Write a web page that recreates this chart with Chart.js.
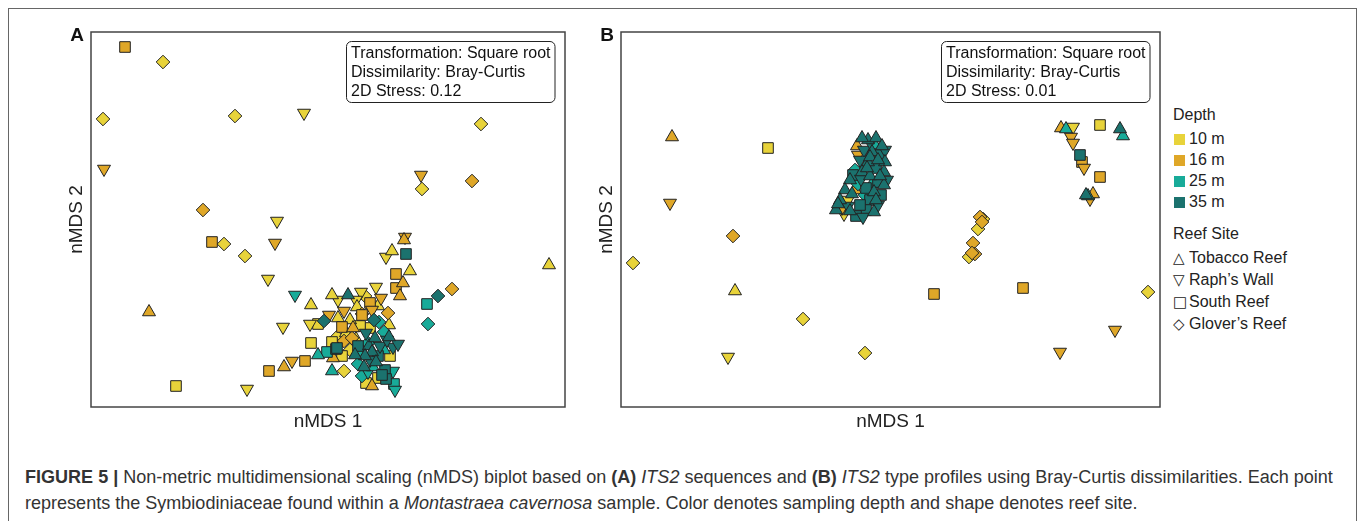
<!DOCTYPE html>
<html>
<head>
<meta charset="utf-8">
<script src="https://cdn.jsdelivr.net/npm/chart.js@4.4.0/dist/chart.umd.min.js"></script>
<style>
  body { margin: 0; background: #fff; width: 1358px; height: 521px; overflow: hidden; position: relative;
         font-family: "Liberation Sans", Arial, sans-serif; color: #222; }
  #frame { position: absolute; left: 8px; top: 8px; width: 1349px; height: 600px;
           border: 1.5px solid #666; border-bottom: none; box-sizing: border-box; }
  canvas { position: absolute; }
  #chartA { left: 40px; top: 20px; }
  #chartB { left: 570px; top: 20px; }
  #legend { position: absolute; left: 1173px; top: 104px; font-size: 16px; }
  .lg-title { line-height: 22px; margin-bottom: 2px; }
  .lg-title.second { margin-top: 11px; }
  .lg-row { line-height: 21px; white-space: nowrap; }
  .sw { display: inline-block; width: 11px; height: 11px; margin: 0 4px 0 1px; vertical-align: -1px; }
  .sym { display: inline-block; width: 16px; font-family: "DejaVu Sans", sans-serif; font-size: 15px; }
  #caption { position: absolute; left: 25px; top: 464px; font-size: 16px; line-height: 26px;
             color: #333; white-space: nowrap; }
</style>
</head>
<body>
<div id="frame"></div>
<canvas id="chartA" width="535" height="420"></canvas>
<canvas id="chartB" width="600" height="420"></canvas>
<div id="legend"></div>
<div id="caption">
  <span id="line1"><b>FIGURE 5 |</b> Non-metric multidimensional scaling (nMDS) biplot based on <b>(A)</b> <i>ITS2</i> sequences and <b>(B)</b> <i>ITS2</i> type profiles using Bray-Curtis dissimilarities. Each point</span><br>
  represents the Symbiodiniaceae found within a <i>Montastraea cavernosa</i> sample. Color denotes sampling depth and shape denotes reef site.
</div>
<script>
// legend levels
const depthLabels = ["10 m", "16 m", "25 m", "35 m"];
const siteLabels = ["Tobacco Reef", "Raph\u2019s Wall", "South Reef", "Glover\u2019s Reef"];
const depthColors = ["#E8D33A", "#DFA728", "#18AB99", "#1B726E"];

const statsA = ["Transformation: Square root", "Dissimilarity: Bray-Curtis", "2D Stress: 0.12"];
const statsB = ["Transformation: Square root", "Dissimilarity: Bray-Curtis", "2D Stress: 0.01"];

// panel A: ITS2 sequences (depth / site are indices into the label lists)
const aX = [-1.015,-0.825,-1.125,-0.465,-0.12,0.765,-1.12,0.465,0.47,0.72,
  -0.625,-0.255,-0.58,-0.52,-0.265,-0.415,-0.30,1.105,-0.895,-0.76,
  -0.405,-0.295,-0.22,-0.18,-0.115,-0.05,-0.005,0.04,0.02,0.08,
  0.19,-0.085,-0.225,-0.165,0.02,0.10,-0.085,0.165,0.185,0.24,
  0.265,0.36,0.34,0.375,0.34,0.41,0.29,0.32,0.385,0.38,
  0.39,0.495,0.55,0.62,0.50,-0.09,-0.05,-0.02,0.005,0.08,
  0.11,0.17,0.30,0.305,0.255,0.25,0.21,0.15,0.31,0.285,
  0.29,0.33,0.335,0.325,0.325,0.07,0.125,0.21,0.045,0.08,
  0.02,0.045,0.025,0.15,0.18,0.225,0.205,0.17,0.145,0.05,
  0.09,0.12,0.19,0.235,0.26,0.22,0.25,0.185,0.16,0.28,
  0.21,0.24,0.20,0.27,0.17,0.135,0.295,0.23,0.28,0.20,
  0.305,0.16,0.11,0.07,0.25,0.22,0.35,0.14,0.05,0.14,
  0.22];
const aY = [0.865,0.79,0.505,0.52,0.535,0.48,0.255,0.225,0.155,0.195,
  0.05,-0.005,-0.11,-0.12,-0.115,-0.18,-0.295,-0.225,-0.46,-0.83,
  -0.845,-0.755,-0.735,-0.705,-0.705,-0.675,-0.66,-0.645,-0.755,-0.755,
  -0.815,-0.615,-0.535,-0.375,-0.375,-0.375,-0.425,-0.36,-0.38,-0.335,
  -0.39,-0.38,-0.34,-0.315,-0.27,-0.255,-0.185,-0.155,-0.085,-0.10,
  -0.17,-0.42,-0.38,-0.345,-0.52,-0.52,-0.52,-0.505,-0.475,-0.455,
  -0.50,-0.47,-0.465,-0.525,-0.51,-0.43,-0.415,-0.63,-0.68,-0.75,
  -0.795,-0.82,-0.85,-0.635,-0.755,-0.535,-0.54,-0.54,-0.585,-0.605,
  -0.61,-0.64,-0.69,-0.72,-0.735,-0.735,-0.63,-0.475,-0.435,-0.49,
  -0.565,-0.59,-0.565,-0.59,-0.63,-0.66,-0.68,-0.68,-0.65,-0.65,
  -0.70,-0.71,-0.76,-0.775,-0.78,-0.675,-0.60,-0.50,-0.56,-0.615,
  -0.585,-0.53,-0.65,-0.68,-0.79,-0.83,-0.62,-0.595,-0.40,-0.40,
  -0.45];
const aDepth = [1,0,0,0,0,0,1,1,0,1,
  1,0,1,0,1,0,0,0,1,0,
  0,1,1,1,1,2,2,3,2,0,
  0,0,0,2,0,3,0,0,0,0,
  1,1,1,1,1,0,0,0,1,1,
  3,2,3,1,2,0,0,3,1,1,
  0,1,1,0,2,0,1,3,0,3,
  3,2,2,3,2,1,1,0,0,1,
  0,3,1,2,3,2,3,1,0,0,
  0,1,3,3,3,3,3,3,2,2,
  3,3,2,3,2,3,3,3,2,2,
  3,0,0,0,0,1,3,0,0,0,
  1];
const aSite = [2,3,3,3,1,3,1,1,3,3,
  3,1,2,3,1,3,1,0,0,2,
  1,2,0,1,2,0,2,2,0,3,
  2,2,1,1,0,0,0,1,3,1,
  1,0,2,0,2,0,1,0,1,0,
  2,2,3,3,3,1,2,3,1,1,
  0,3,3,0,3,0,2,2,2,2,
  2,2,1,1,1,2,0,2,3,3,
  2,2,0,3,0,0,0,2,0,0,
  0,3,1,0,1,0,2,0,3,0,
  1,0,1,2,3,0,1,3,3,3,
  0,2,3,2,2,0,1,0,1,1,
  1];

// panel B: ITS2 type profiles
const bX = [-1.09,-0.61,-1.10,-0.785,-1.285,-0.775,-0.435,-0.81,-0.125,0.22,
  0.665,1.29,1.125,0.85,0.855,0.88,0.915,1.05,1.15,1.165,
  0.905,0.915,0.95,0.96,0.97,1.05,0.99,1.015,1.00,0.98,
  0.45,0.465,0.44,0.415,0.425,0.395,0.41,0.46,
  -0.11,-0.07,-0.04,-0.13,-0.09,-0.05,-0.025,-0.15,-0.11,-0.07,
  -0.03,-0.175,-0.14,-0.10,-0.06,-0.03,-0.20,-0.16,-0.12,-0.08,
  -0.045,-0.225,-0.19,-0.10,-0.06,-0.25,-0.21,-0.12,-0.08,-0.27,
  -0.23,-0.17,-0.135,-0.20,-0.15,-0.165,-0.075,-0.125,-0.185,-0.05,
  -0.015,-0.14,-0.10,-0.16,-0.24,-0.21,-0.06,-0.09,-0.025,-0.26,
  -0.115,-0.145,-0.175,-0.07,-0.10];
const bY = [0.415,0.36,0.085,-0.08,-0.215,-0.355,-0.495,-0.685,-0.665,-0.37,
  -0.34,-0.36,-0.55,-0.66,0.46,0.455,0.465,0.475,0.455,0.42,
  0.415,0.385,0.325,0.29,0.26,0.215,0.12,0.13,0.105,0.125,
  0.015,0.005,-0.045,-0.115,-0.17,-0.185,-0.165,-0.01,
  0.40,0.41,0.37,0.35,0.34,0.325,0.29,0.30,0.29,0.26,
  0.24,0.25,0.24,0.22,0.19,0.175,0.20,0.18,0.16,0.14,
  0.125,0.15,0.13,0.10,0.075,0.10,0.07,0.05,0.04,0.05,
  0.03,0.02,0.015,0.045,0.075,0.37,0.375,0.125,0.225,0.22,
  0.20,0.41,0.315,0.325,0.06,0.10,0.30,0.18,0.35,0.08,
  0.26,0.205,0.15,0.10,0.39];
const bDepth = [1,0,1,1,0,0,0,0,0,1,
  1,0,1,1,1,2,0,0,3,2,
  1,1,3,1,1,1,2,1,1,3,
  1,0,0,1,1,0,1,1,
  3,3,3,3,3,3,3,3,3,3,
  3,2,3,3,3,3,3,2,3,3,
  3,3,3,3,3,3,3,3,3,3,
  0,3,3,3,3,1,2,2,3,3,
  3,3,3,1,1,0,3,2,3,3,
  3,3,1,3,3];
const bSite = [0,2,1,3,3,0,3,1,3,2,
  2,3,1,1,0,0,1,2,0,0,
  1,1,2,2,1,2,0,0,1,0,
  3,3,3,3,3,3,3,3,
  0,0,0,1,0,2,0,1,0,2,
  0,3,0,0,2,0,0,3,2,0,
  2,0,0,2,1,0,1,2,0,0,
  1,2,1,0,2,0,0,3,2,0,
  1,0,0,1,1,1,0,0,1,0,
  0,1,0,0,1];

// marker look for each reef site
const siteMarks = [
  { style: "triangle", rot: 0, r: 7.5 },
  { style: "triangle", rot: 180, r: 7.5 },
  { style: "rect", rot: 0, r: 7.5 },
  { style: "rectRot", rot: 0, r: 6.8 }
];

Chart.defaults.font.family = '"Liberation Sans", Arial, sans-serif';
Chart.defaults.color = "#222";

function buildDatasets(xs, ys, depth, site) {
  const sets = [];
  // dataset 0 is painted last, so deep samples go first to sit on top
  for (let d = depthLabels.length - 1; d >= 0; d--) {
    for (let s = 0; s < siteLabels.length; s++) {
      const pts = [];
      xs.forEach((x, i) => {
        if (depth[i] === d && site[i] === s) pts.push({ x: x, y: ys[i] });
      });
      if (!pts.length) continue;
      sets.push({
        label: depthLabels[d] + " / " + siteLabels[s],
        data: pts,
        pointStyle: siteMarks[s].style,
        pointRotation: siteMarks[s].rot,
        pointRadius: siteMarks[s].r,
        pointBackgroundColor: depthColors[d],
        pointBorderColor: "#222",
        pointBorderWidth: 1
      });
    }
  }
  return sets;
}

const panelDecor = {
  id: "panelDecor",
  afterDraw(chart, args, opts) {
    const { ctx, chartArea: a } = chart;
    ctx.save();
    ctx.strokeStyle = "#444";
    ctx.lineWidth = 1.5;
    ctx.strokeRect(a.left, a.top, a.right - a.left, a.bottom - a.top);

    ctx.font = '16px "Liberation Sans", Arial, sans-serif';
    const w = Math.max(...opts.lines.map(t => ctx.measureText(t).width)) + 9;
    const bx = Math.round(a.right - 11 - w), by = Math.round(a.top + 9), bh = 61;
    ctx.beginPath();
    ctx.roundRect(bx + 0.5, by + 0.5, w, bh, 5);
    ctx.fillStyle = "#fff";
    ctx.fill();
    ctx.strokeStyle = "#222";
    ctx.lineWidth = 1;
    ctx.stroke();
    ctx.fillStyle = "#111";
    ctx.textBaseline = "middle";
    opts.lines.forEach((t, i) => ctx.fillText(t, bx + 5, by + 12.5 + i * 19));

    ctx.font = 'bold 19px "Liberation Sans", Arial, sans-serif';
    ctx.textAlign = "center";
    ctx.fillText(opts.letter, a.left - 14, a.top + 4);
    ctx.restore();
  }
};

function makeChart(id, xs, ys, depth, site, xRange, letter, lines) {
  return new Chart(document.getElementById(id), {
    type: "scatter",
    data: { datasets: buildDatasets(xs, ys, depth, site) },
    options: {
      responsive: false,
      animation: false,
      events: [],
      devicePixelRatio: 1,
      layout: { padding: { top: 12, right: 10, left: 0, bottom: 0 } },
      scales: {
        x: {
          type: "linear", min: xRange[0], max: xRange[1],
          grid: { display: false, drawTicks: false },
          border: { display: false },
          ticks: { display: false },
          title: { display: true, text: "nMDS 1", font: { size: 19 }, padding: { top: 0, bottom: 7 } },
          afterFit(scale) { scale.height = 33; }
        },
        y: {
          type: "linear", min: -0.935, max: 0.94,
          grid: { display: false, drawTicks: false },
          border: { display: false },
          ticks: { display: false },
          title: { display: true, text: "nMDS 2", font: { size: 19 }, padding: { top: 25, bottom: 0 } },
          afterFit(scale) { scale.width = 51; }
        }
      },
      plugins: {
        legend: { display: false },
        tooltip: { enabled: false },
        panelDecor: { letter: letter, lines: lines }
      }
    },
    plugins: [panelDecor]
  });
}

makeChart("chartA", aX, aY, aDepth, aSite, [-1.185, 1.185], "A", statsA);
makeChart("chartB", bX, bY, bDepth, bSite, [-1.345, 1.35], "B", statsB);

// legend on the right
const siteSymbols = ["\u25B3", "\u25BD", "\u25A1", "\u25C7"];
let html = '<div class="lg-title">Depth</div>';
depthLabels.forEach((lab, i) => {
  html += '<div class="lg-row"><span class="sw" style="background:' + depthColors[i] + '"></span>' + lab + '</div>';
});
html += '<div class="lg-title second">Reef Site</div>';
siteLabels.forEach((lab, i) => {
  html += '<div class="lg-row"><span class="sym">' + siteSymbols[i] + '</span>' + lab + '</div>';
});
document.getElementById("legend").innerHTML = html;

// stretch the caption so the first line ends where the printed one does
const line1 = document.getElementById("line1");
const cap = document.getElementById("caption");
const fs = 16 * 1309 / line1.getBoundingClientRect().width;
cap.style.fontSize = fs.toFixed(2) + "px";
</script>
</body>
</html>
